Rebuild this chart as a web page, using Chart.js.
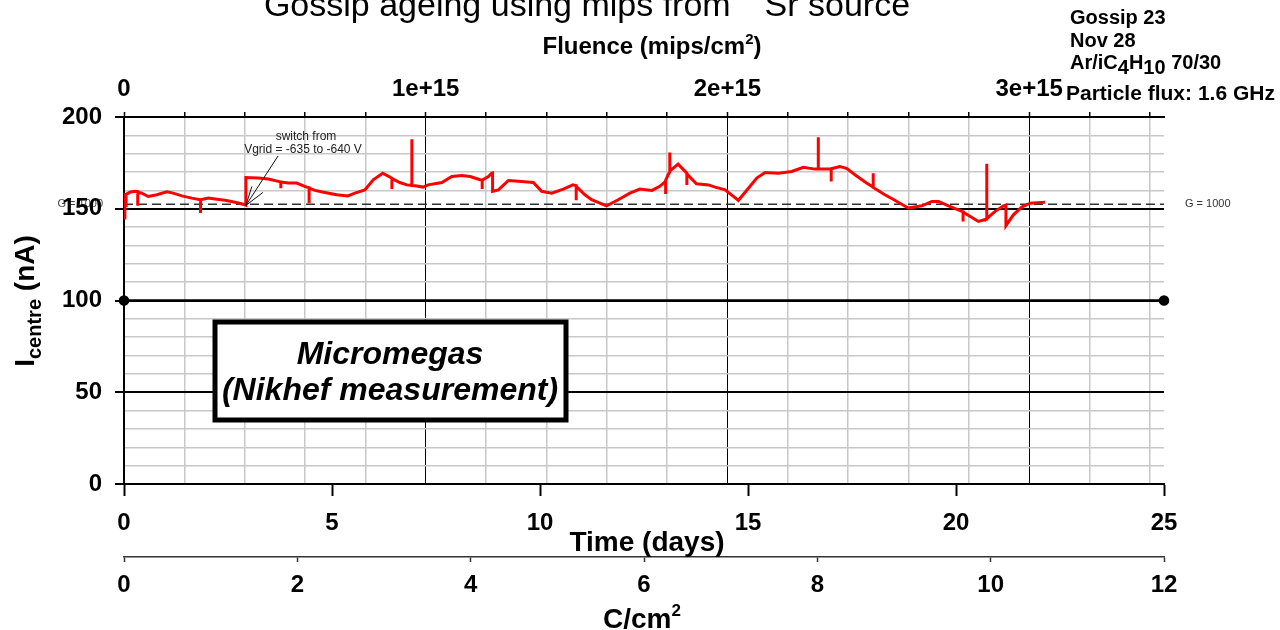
<!DOCTYPE html>
<html><head><meta charset="utf-8">
<script src="https://cdn.jsdelivr.net/npm/chart.js@4.4.0/dist/chart.umd.min.js"></script>
<style>html,body{margin:0;padding:0;background:#fff;}canvas{display:block}</style>
</head><body>
<canvas id="c" width="1280" height="630"></canvas>
<script>
// ---- data ----
const timeDays = [0.00,0.02,0.05,0.05,0.05,0.14,0.26,0.33,0.33,0.33,0.43,0.58,0.79,1.03,1.18,1.39,1.63,1.84,1.84,1.84,2.03,2.19,2.43,2.67,2.91,2.93,2.93,3.23,3.47,3.71,3.77,3.77,3.77,3.95,4.15,4.39,4.45,4.45,4.45,4.59,4.83,5.11,5.38,5.55,5.79,5.99,6.22,6.44,6.44,6.44,6.63,6.80,6.92,6.92,6.92,7.00,7.19,7.31,7.64,7.88,8.12,8.32,8.56,8.61,8.61,8.61,8.76,8.84,8.86,8.86,9.00,9.24,9.56,9.84,10.04,10.28,10.56,10.79,10.87,10.87,10.87,11.08,11.24,11.60,11.88,12.16,12.40,12.69,12.88,13.02,13.02,13.02,13.08,13.12,13.12,13.12,13.32,13.53,13.53,13.53,13.76,14.05,14.21,14.45,14.77,15.01,15.21,15.41,15.73,16.05,16.33,16.61,16.69,16.69,16.69,16.97,17.00,17.00,17.00,17.21,17.37,17.57,17.85,18.01,18.01,18.01,18.29,18.53,18.85,19.18,19.42,19.58,19.82,20.14,20.17,20.17,20.17,20.54,20.74,20.74,20.74,20.94,21.14,21.20,21.20,21.38,21.58,21.78,22.14];
const currentNA = [145,157.6,157.5,151,157.8,159,159.5,159.3,151.6,159,158.5,156.7,157.6,159.2,158.5,157,155.8,154.9,147.7,154.9,155.8,155.3,154.6,153.5,152.2,152,167,166.7,166.2,164.9,164.6,161.2,164.6,164,164,161.8,161.5,153,161.3,160,158.9,157.6,157,158.5,160.3,165.8,169.4,166.7,160.7,166.5,164.3,163,162.7,187.9,162.6,162.5,161.8,163,164.3,167.6,168.1,167.6,165.8,165.6,160.7,165.6,167.6,169.4,169.5,159.5,160.3,165.4,164.9,164.3,159.5,158.5,160.7,163,162.6,154.6,162.2,157.6,154.9,151.6,154.9,158.5,160.7,160,162.2,165,158,165.5,168.5,170,180.6,170.5,174.3,169.4,163,169,163.6,163,161.8,160.3,154.6,161.2,166.7,169.8,169.4,170.3,172.6,171.6,171.6,188.9,171.6,171.6,171.6,164.9,171.8,173,172,168.5,164,161.8,169.4,161.6,157.6,154.6,150.4,151.6,154,154,151.6,148.6,148.4,143,148.2,143.1,144.4,174.5,144.6,148.6,151.6,152,140.8,146.7,150.9,153,153.5];

const timeTicks = [0,5,10,15,20,25];
const chargeTicks = [0,2,4,6,8,10,12];
const currentTicks = [0,10,20,30,40,50,60,70,80,90,100,110,120,130,140,150,160,170,180,190,200];
const currentLabelled = [0,50,100,150,200];
const fluenceTicks = [0,0.2,0.4,0.6,0.8,1,1.2,1.4,1.6,1.8,2,2.2,2.4,2.6,2.8,3,3.2,3.4]; // units of 1e15
const fluenceMajor = [0,1,2,3];
const fluenceTickLabels = ['0','1e+15','2e+15','3e+15'];
const gainLevelNA = 152.5;      // G = 1000 level
const referenceNA = 100;
const timeMax = 25, chargeMax = 12, fluenceMax = 3.447, currentMax = 200;

const FONT = "'Liberation Sans', Arial, Helvetica, sans-serif";
const tickFont = {family: FONT, size: 24, weight: 'bold'};
const isMajorF = v => fluenceMajor.some(m => Math.abs(m - v) < 1e-6);
const isMajorY = v => currentLabelled.includes(v);

function richText(ctx, parts, x, y, align) {
  let w = 0;
  parts.forEach(p => { ctx.font = p.f; p.w = ctx.measureText(p.t).width; w += p.w; });
  let cx = align === 'center' ? x - w / 2 : (align === 'right' ? x - w : x);
  ctx.textAlign = 'left'; ctx.textBaseline = 'alphabetic';
  parts.forEach(p => { ctx.font = p.f; ctx.fillText(p.t, cx, y + (p.dy || 0)); cx += p.w; });
}

const decor = {
  id: 'decor',
  beforeDraw(chart) {
    const ctx = chart.ctx, ys = chart.scales.y;
    ctx.save();
    ctx.fillStyle = '#fff'; ctx.fillRect(0, 0, chart.width, chart.height);
    ctx.fillStyle = '#444'; ctx.font = `11px ${FONT}`; ctx.textAlign = 'right'; ctx.textBaseline = 'middle';
    ctx.fillText('G = 1000', 103, ys.getPixelForValue(gainLevelNA));
    ctx.restore();
  },
  afterDraw(chart) {
    const ctx = chart.ctx, xs = chart.scales.x, ys = chart.scales.y;
    ctx.save();
    ctx.fillStyle = '#000';
    // main title (superscript 90 falls above the page edge)
    richText(ctx, [
      {t: 'Gossip ageing using mips from ', f: `34px ${FONT}`},
      {t: '90', f: `22px ${FONT}`, dy: -22},
      {t: 'Sr source', f: `34px ${FONT}`}
    ], 587, 16, 'center');
    // top axis title
    richText(ctx, [
      {t: 'Fluence (mips/cm', f: `bold 24px ${FONT}`},
      {t: '2', f: `bold 15px ${FONT}`, dy: -10},
      {t: ')', f: `bold 24px ${FONT}`}
    ], 652, 54, 'center');
    // info block
    const bf = `bold 20px ${FONT}`, sf = `bold 20px ${FONT}`;
    richText(ctx, [{t: 'Gossip 23', f: bf}], 1070, 24, 'left');
    richText(ctx, [{t: 'Nov 28', f: bf}], 1070, 47, 'left');
    richText(ctx, [{t: 'Ar/iC', f: bf}, {t: '4', f: sf, dy: 5}, {t: 'H', f: bf}, {t: '10', f: sf, dy: 5}, {t: ' 70/30', f: bf}], 1070, 69, 'left');
    richText(ctx, [{t: 'Particle flux: 1.6 GHz', f: `bold 21px ${FONT}`}], 1066, 100, 'left');
    // y title
    ctx.save();
    ctx.translate(34, 301); ctx.rotate(-Math.PI / 2);
    richText(ctx, [
      {t: 'I', f: `bold 28px ${FONT}`},
      {t: 'centre', f: `bold 20px ${FONT}`, dy: 7},
      {t: ' (nA)', f: `bold 28px ${FONT}`}
    ], 0, 0, 'center');
    ctx.restore();
    // bottom titles
    richText(ctx, [{t: 'Time (days)', f: `bold 28px ${FONT}`}], 647, 551, 'center');
    richText(ctx, [{t: 'C/cm', f: `bold 28px ${FONT}`}, {t: '2', f: `bold 17px ${FONT}`, dy: -12}], 642, 628, 'center');
    // G = 1000 right label
    ctx.fillStyle = '#333'; ctx.font = `11px ${FONT}`; ctx.textAlign = 'left'; ctx.textBaseline = 'middle';
    ctx.fillText('G = 1000', 1185, ys.getPixelForValue(gainLevelNA));
    // switch annotation
    ctx.fillStyle = '#222'; ctx.font = `12px ${FONT}`; ctx.textAlign = 'center'; ctx.textBaseline = 'middle';
    ctx.fillText('switch from', 306, 137);
    ctx.fillText('Vgrid = -635 to -640 V', 303, 150);
    const tx = xs.getPixelForValue(2.93), ty = ys.getPixelForValue(151.8);
    const sx = 278, sy = 156;
    ctx.strokeStyle = '#111'; ctx.lineWidth = 1;
    ctx.beginPath(); ctx.moveTo(sx, sy); ctx.lineTo(tx, ty); ctx.stroke();
    ctx.beginPath(); ctx.moveTo(tx, ty); ctx.lineTo(tx + 6, ty - 19); ctx.moveTo(tx, ty); ctx.lineTo(tx + 17, ty - 13); ctx.stroke();
    // Micromegas box
    ctx.fillStyle = '#fff'; ctx.fillRect(215, 322, 351, 98);
    ctx.strokeStyle = '#000'; ctx.lineWidth = 5; ctx.strokeRect(215, 322, 351, 98);
    ctx.fillStyle = '#000'; ctx.font = `italic bold 32px ${FONT}`; ctx.textAlign = 'center'; ctx.textBaseline = 'middle';
    ctx.fillText('Micromegas', 390, 355);
    ctx.fillText('(Nikhef measurement)', 390, 391);
    ctx.restore();
  }
};

const pts = timeDays.map((d, i) => ({x: d, y: currentNA[i]}));

new Chart(document.getElementById('c'), {
  type: 'line',
  data: {
    datasets: [
      {data: pts, borderColor: '#ff0000', borderWidth: 3, pointRadius: 0, tension: 0, order: 0, xAxisID: 'x', yAxisID: 'y'},
      {data: [{x: 0, y: gainLevelNA}, {x: timeMax, y: gainLevelNA}], borderColor: '#333', borderWidth: 1.5, borderDash: [9, 5], pointRadius: 0, order: 1, xAxisID: 'x', yAxisID: 'y'},
      {data: [{x: 0, y: referenceNA}, {x: timeMax, y: referenceNA}], borderColor: '#000', borderWidth: 2.5, pointRadius: 4, pointBackgroundColor: '#000', pointBorderColor: '#000', order: 2, clip: false, xAxisID: 'x', yAxisID: 'y'}
    ]
  },
  options: {
    responsive: false, animation: false, devicePixelRatio: 1,
    layout: {padding: {left: 0, right: 116, top: 0, bottom: 0}},
    plugins: {legend: {display: false}, tooltip: {enabled: false}, title: {display: false}},
    scales: {
      x: {
        type: 'linear', position: 'bottom', weight: 0, min: 0, max: timeMax,
        afterBuildTicks: s => { s.ticks = timeTicks.map(v => ({value: v})); },
        afterFit: s => { s.height = 73; },
        grid: {drawOnChartArea: false, drawTicks: true, tickLength: 12, tickColor: '#000', tickWidth: 2},
        border: {display: true, color: '#000', width: 2},
        ticks: {autoSkip: false, maxRotation: 0, color: '#000', font: tickFont, padding: 13}
      },
      xc: {
        type: 'linear', position: 'bottom', weight: 1, min: 0, max: chargeMax,
        afterBuildTicks: s => { s.ticks = chargeTicks.map(v => ({value: v})); },
        afterFit: s => { s.height = 73; },
        grid: {drawOnChartArea: false, drawTicks: true, tickLength: 5, tickColor: '#333', tickWidth: 1.5},
        border: {display: true, color: '#333', width: 1.5},
        ticks: {autoSkip: false, maxRotation: 0, color: '#000', font: tickFont, padding: 9}
      },
      xf: {
        type: 'linear', position: 'top', min: 0, max: fluenceMax,
        afterBuildTicks: s => { s.ticks = fluenceTicks.map(v => ({value: v})); },
        afterFit: s => { s.height = 117; },
        grid: {
          drawOnChartArea: true, drawTicks: true, tickLength: 5, tickColor: '#000', tickWidth: 1.5,
          color: c => isMajorF(c.tick.value) ? '#000' : '#c8c8c8',
          lineWidth: c => isMajorF(c.tick.value) ? 1 : 1.5
        },
        border: {display: true, color: '#000', width: 2},
        ticks: {
          autoSkip: false, maxRotation: 0, color: '#000', font: tickFont, padding: 8,
          callback: v => { const i = fluenceMajor.findIndex(m => Math.abs(m - v) < 1e-6); return i >= 0 ? fluenceTickLabels[i] : ''; }
        }
      },
      y: {
        type: 'linear', position: 'left', min: 0, max: currentMax,
        afterBuildTicks: s => { s.ticks = currentTicks.map(v => ({value: v})); },
        afterFit: s => { s.width = 124; },
        grid: {
          drawOnChartArea: true, drawTicks: true, tickLength: 9, tickWidth: 2,
          color: c => isMajorY(c.tick.value) ? '#000' : '#c8c8c8',
          lineWidth: c => isMajorY(c.tick.value) ? 2 : 1.5,
          tickColor: c => isMajorY(c.tick.value) ? '#000' : 'rgba(0,0,0,0)'
        },
        border: {display: true, color: '#000', width: 2},
        ticks: {autoSkip: false, color: '#000', font: tickFont, padding: 13, callback: v => isMajorY(v) ? String(v) : ''}
      }
    }
  },
  plugins: [decor]
});
</script>
</body></html>
